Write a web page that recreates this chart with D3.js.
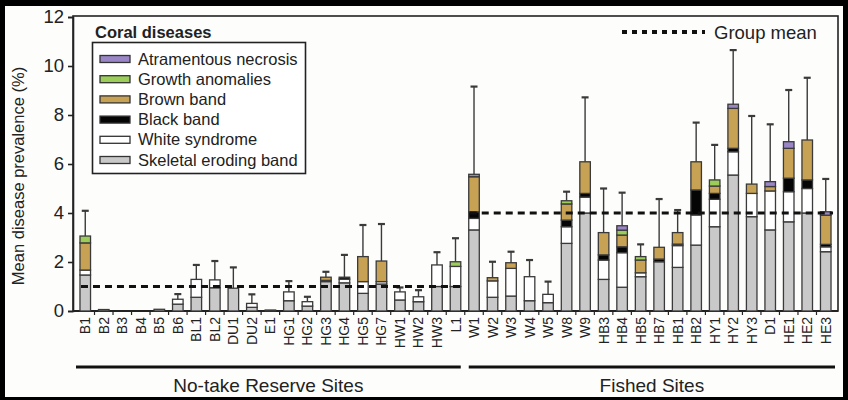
<!DOCTYPE html>
<html>
<head>
<meta charset="utf-8">
<script src="https://cdn.jsdelivr.net/npm/d3@7"></script>
<style>
  html, body { margin: 0; padding: 0; background: #000; }
  svg { display: block; }
  text { font-family: "Liberation Sans", Arial, sans-serif; fill: #222; }
</style>
</head>
<body>
<svg id="chart" width="848" height="400"></svg>
<script>
// Sites, in plotting order
const noTakeSites = ["B1","B2","B3","B4","B5","B6","BL1","BL2","DU1","DU2","E1",
  "HG1","HG2","HG3","HG4","HG5","HG7","HW1","HW2","HW3","L1"];
const fishedSites = ["W1","W2","W3","W4","W5","W8","W9","HB3","HB4","HB5","HB7",
  "HB1","HB2","HY1","HY2","HY3","D1","HE1","HE2","HE3"];
const sites = noTakeSites.concat(fishedSites);

// Mean prevalence (%) of each disease per site (stacked bottom to top)
const skeletalEroding = [1.47,0.06,0,0,0.07,0.28,0.56,0.95,0.93,0.15,0.04,
  0.42,0.20,1.20,1.15,0.72,1.10,0.45,0.38,1.00,1.00,
  3.31,0.56,0.61,0.42,0.34,2.76,4.00,1.29,0.97,1.40,2.01,
  1.78,2.69,3.44,5.55,3.85,3.31,3.64,4.00,2.42];
const whiteSyndrome = [0.20,0,0,0,0,0.20,0.73,0.32,0,0.16,0,
  0.36,0.18,0.05,0.15,0.48,0.10,0.33,0.20,0.88,0.82,
  0.47,0.67,1.13,0.98,0.34,0.68,0.65,0.79,1.41,0.16,0,
  0.89,1.23,1.12,0.95,0.95,1.59,1.23,1.00,0.20];
const blackBand = [0,0,0,0,0,0,0,0,0,0,0,
  0,0,0,0.08,0,0,0,0,0,0,
  0.27,0,0,0,0,0.27,0.15,0.21,0.24,0,0.11,
  0.06,1.02,0.24,0.14,0,0,0.55,0.35,0.10];
const brownBand = [1.11,0,0,0,0,0,0,0,0,0,0,
  0,0,0.13,0,1.02,0.84,0,0,0,0,
  1.43,0.13,0.23,0,0,0.66,1.29,0.91,0.48,0.52,0.48,
  0.47,1.15,0.30,1.63,0.38,0.18,1.22,1.63,1.19];
const growthAnomalies = [0.28,0,0,0,0,0,0,0,0,0,0,
  0,0,0,0,0,0,0,0,0,0.19,
  0,0,0,0,0,0.13,0,0,0.20,0.14,0,
  0,0,0.25,0,0,0,0,0,0];
const atramentousNecrosis = [0,0,0,0,0,0,0,0,0,0,0,
  0,0,0,0,0,0,0,0,0,0,
  0.10,0,0,0,0,0,0,0,0.18,0,0,
  0,0,0,0.17,0,0.20,0.27,0,0.14];
// Upper end of the error bar for each site (%)
const errorTop = [4.09,0.06,0,0,0.07,0.69,1.88,2.04,1.78,0.68,0.04,
  1.22,0.58,1.60,2.29,3.51,3.55,0.96,0.85,2.40,2.97,
  9.16,2.01,2.42,2.08,1.20,4.87,8.72,5.00,4.83,2.72,4.57,
  4.12,7.69,6.78,10.65,7.96,7.62,9.02,9.52,5.39];

// Disease legend (top to bottom) and fills
const diseaseNames = ["Atramentous necrosis","Growth anomalies","Brown band",
  "Black band","White syndrome","Skeletal eroding band"];
const diseaseColors = ["#9a86c6","#9ccc5a","#c8a254","#050505","#ffffff","#c9c9c9"];

// Management groups and their mean prevalence (%)
const groupNames = ["No-take Reserve Sites","Fished Sites"];
const groupMeans = [1.0, 4.0];
const yTicks = [0,2,4,6,8,10,12];

const seriesByName = {
  "Skeletal eroding band": skeletalEroding,
  "White syndrome": whiteSyndrome,
  "Black band": blackBand,
  "Brown band": brownBand,
  "Growth anomalies": growthAnomalies,
  "Atramentous necrosis": atramentousNecrosis
};
const stackOrder = diseaseNames.slice().reverse(); // bottom first
const color = d3.scaleOrdinal(diseaseNames, diseaseColors);

const rows = sites.map((s, i) => {
  const r = { site: s, err: errorTop[i] };
  stackOrder.forEach(k => r[k] = seriesByName[k][i]);
  return r;
});

const svg = d3.select("#chart");
const W = 848, H = 400;

// page background with dark frame
svg.append("rect").attr("x", 0).attr("y", 0).attr("width", W).attr("height", H).attr("fill", "#000");
svg.append("rect").attr("x", 5).attr("y", 6).attr("width", W - 10).attr("height", H - 9).attr("fill", "#fdfdfc");

const x = d3.scaleBand(sites, [76, 835]).paddingInner(0.43).paddingOuter(0.215);
const y = d3.scaleLinear([0, 12], [311, 17]);
const bw = x.bandwidth();

// plot frame
svg.append("rect")
  .attr("x", 73).attr("y", y(12) - 1)
  .attr("width", 838 - 73).attr("height", y(0) - y(12) + 1)
  .attr("fill", "none").attr("stroke", "#222").attr("stroke-width", 1.6);

// y axis
const yAxis = svg.append("g").attr("transform", "translate(73,0)")
  .call(d3.axisLeft(y).tickValues(yTicks).tickSize(5).tickPadding(4));
yAxis.select(".domain").attr("stroke", "#222").attr("stroke-width", 1.6);
yAxis.selectAll(".tick line").attr("stroke", "#222").attr("stroke-width", 1.6);
yAxis.selectAll("text").style("font-size", "18.5px").attr("fill", "#333")
  .style("font-family", "'Liberation Sans', Arial, sans-serif");

svg.append("text")
  .attr("transform", `translate(24,${(y(0) + y(12)) / 2 + 12}) rotate(-90)`)
  .attr("text-anchor", "middle").style("font-size", "16.5px").attr("fill", "#333")
  .text("Mean disease prevalence (%)");

// x axis baseline, boundary ticks and rotated site labels
const step = x.step();
const xAxisG = svg.append("g").attr("transform", `translate(0,${y(0)})`);
xAxisG.append("line").attr("x1", 73).attr("x2", 838).attr("stroke", "#222").attr("stroke-width", 2);
xAxisG.selectAll("line.bt").data(sites.slice(1)).join("line")
  .attr("class", "bt")
  .attr("x1", d => x(d) - (step - bw) / 2).attr("x2", d => x(d) - (step - bw) / 2)
  .attr("y1", 0).attr("y2", 4).attr("stroke", "#222").attr("stroke-width", 1.2);
xAxisG.selectAll("text.site").data(sites).join("text")
  .attr("class", "site")
  .attr("transform", d => `translate(${x(d) + bw / 2 + 5},6) rotate(-90)`)
  .attr("text-anchor", "end").style("font-size", "14px").attr("fill", "#333")
  .text(d => d);

// stacked bars
const stacked = d3.stack().keys(stackOrder)(rows);
const barG = svg.append("g");
stacked.forEach(layer => {
  barG.append("g").selectAll("rect").data(layer.filter(d => d[1] - d[0] > 0)).join("rect")
    .attr("x", d => x(d.data.site))
    .attr("width", bw)
    .attr("y", d => y(d[1]))
    .attr("height", d => y(d[0]) - y(d[1]))
    .attr("fill", color(layer.key))
    .attr("stroke", "#3a3a3a").attr("stroke-width", 1.3);
});

// error bars
const errG = svg.append("g").attr("stroke", "#3a3a3a");
const totals = rows.map(r => stackOrder.reduce((a, k) => a + r[k], 0));
rows.forEach((r, i) => {
  if (r.err - totals[i] < 0.05) return;
  const cx = x(r.site) + bw / 2;
  errG.append("line").attr("x1", cx).attr("x2", cx)
    .attr("y1", y(totals[i])).attr("y2", y(r.err)).attr("stroke-width", 1.4);
  errG.append("line").attr("x1", cx - 3.5).attr("x2", cx + 3.5)
    .attr("y1", y(r.err)).attr("y2", y(r.err)).attr("stroke-width", 2.2);
});

// group means, dashed across each group's sites
const groups = [noTakeSites, fishedSites];
groups.forEach((g, i) => {
  svg.append("line")
    .attr("x1", x(g[0]) + 1).attr("x2", x(g[g.length - 1]) + bw + 2)
    .attr("y1", y(groupMeans[i])).attr("y2", y(groupMeans[i]))
    .attr("stroke", "#111").attr("stroke-width", 3).attr("stroke-dasharray", "7,5");
});

// group brackets and names under the axis
groups.forEach((g, i) => {
  const x0 = x(g[0]) - (step - bw) / 2 + (i === 0 ? 0 : 4);
  const x1 = x(g[g.length - 1]) + bw + (step - bw) / 2 - (i === 0 ? 4 : 0);
  svg.append("line").attr("x1", x0).attr("x2", x1).attr("y1", 367).attr("y2", 367)
    .attr("stroke", "#111").attr("stroke-width", 3);
  svg.append("text").attr("x", (x0 + x1) / 2).attr("y", 392)
    .attr("text-anchor", "middle").style("font-size", "19px").attr("fill", "#222")
    .text(groupNames[i]);
});

// disease legend
const lg = svg.append("g");
lg.append("text").attr("x", 95).attr("y", 38).style("font-size", "16.5px")
  .style("font-weight", "bold").attr("fill", "#111").text("Coral diseases");
lg.append("rect").attr("x", 92.5).attr("y", 42.5).attr("width", 213).attr("height", 131)
  .attr("fill", "#fff").attr("stroke", "#222").attr("stroke-width", 1.6);
diseaseNames.forEach((n, i) => {
  const cy = 59 + i * 20.2;
  lg.append("rect").attr("x", 100).attr("y", cy - 3.5).attr("width", 30).attr("height", 7)
    .attr("fill", color(n)).attr("stroke", "#333").attr("stroke-width", 1.3);
  lg.append("text").attr("x", 138).attr("y", cy + 5.5).style("font-size", "16.5px")
    .attr("fill", "#333").text(n);
});

// group-mean legend
svg.append("line").attr("x1", 622).attr("x2", 705).attr("y1", 32).attr("y2", 32)
  .attr("stroke", "#111").attr("stroke-width", 4).attr("stroke-dasharray", "5,5");
svg.append("text").attr("x", 714).attr("y", 38.5).style("font-size", "18.5px")
  .attr("fill", "#333").text("Group mean");
</script>
</body>
</html>
